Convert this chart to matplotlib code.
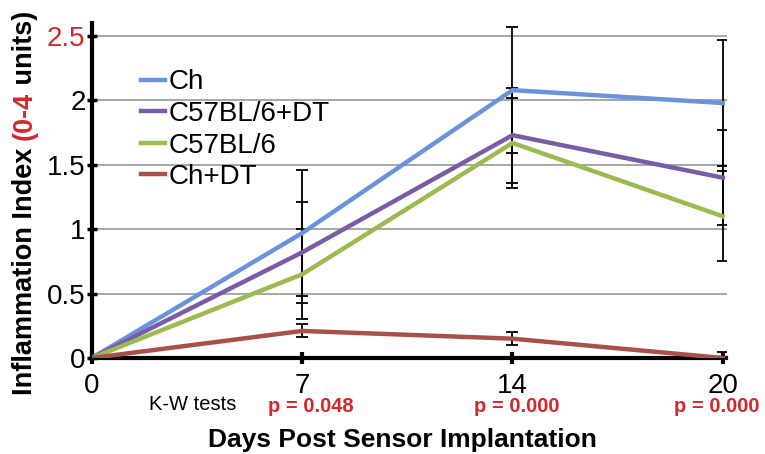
import matplotlib
matplotlib.use("Agg")
import matplotlib.pyplot as plt
import numpy as np

plt.rcParams['font.family'] = ['Liberation Sans', 'DejaVu Sans']

days = ["0", "7", "14", "20"]
series_names = ["Ch", "C57BL/6+DT", "C57BL/6", "Ch+DT"]
ch = [0.0, 0.97, 2.08, 1.98]
c57_dt = [0.0, 0.82, 1.73, 1.40]
c57 = [0.0, 0.65, 1.67, 1.10]
ch_dt = [0.0, 0.21, 0.15, 0.0]
ch_err = [0.0, 0.49, 0.49, 0.49]
c57_dt_err = [0.0, 0.39, 0.37, 0.37]
c57_err = [0.0, 0.35, 0.35, 0.35]
ch_dt_err = [0.0, 0.05, 0.05, 0.05]
p_values = ["", "p = 0.048", "p = 0.000", "p = 0.000"]
yticks = [0, 0.5, 1, 1.5, 2, 2.5]
ytick_labels = ["0", "0.5", "1", "1.5", "2", "2.5"]

colors = ["#6B93DD", "#7A5CA6", "#9BBB4F", "#A9504B"]

W, H = 765, 454
fig = plt.figure(figsize=(7.65, 4.54), dpi=100)
ax = fig.add_axes([0.120, 0.2115, 0.829, 0.7375])

x = np.arange(len(days))
all_vals = [ch, c57_dt, c57, ch_dt]
all_errs = [ch_err, c57_dt_err, c57_err, ch_dt_err]

for vals, errs in zip(all_vals, all_errs):
    ax.errorbar(x[1:], vals[1:], yerr=errs[1:], fmt='none', ecolor='black',
                elinewidth=1.3, capsize=4, capthick=1.3, zorder=2)
lines = []
for name, vals, col in zip(series_names, all_vals, colors):
    ln, = ax.plot(x, vals, color=col, lw=3.2, label=name, zorder=3)
    lines.append(ln)

ax.set_xlim(0, 3.015)
ax.set_ylim(0, 2.6)
ax.set_yticks(yticks)
ax.set_yticklabels(ytick_labels, fontsize=20)
ax.get_yticklabels()[-1].set_color('#D9252A')
ax.set_xticks(x)
ax.set_xticklabels(days, fontsize=20)
for y in yticks[1:]:
    ax.plot([0, 3.015], [y, y], color='#A0A0A0', lw=1.3, zorder=1, clip_on=False)

for s in ['top', 'right']:
    ax.spines[s].set_visible(False)
ax.spines['left'].set_linewidth(3)
ax.spines['bottom'].set_linewidth(3)
ax.tick_params(axis='y', direction='inout', length=7, width=2.5, pad=1)
ax.tick_params(axis='x', direction='inout', length=8, width=3, pad=7)

leg = ax.legend(handles=lines, loc='upper left', bbox_to_anchor=(0.06, 0.895),
                frameon=False, fontsize=20, handlelength=0.85, handletextpad=0.15,
                labelspacing=0.2, borderaxespad=0)

# x label and annotations
fig.text(402 / W, 1 - 440 / H, "Days Post Sensor Implantation", ha='center', va='center',
         fontsize=19, fontweight='bold')
fig.text(193 / W, 1 - 404 / H, "K-W tests", ha='center', va='center', fontsize=14.5)
p_x = [0, 311, 517, 717]
for px, pv in zip(p_x, p_values):
    if pv:
        fig.text(px / W, 1 - 407 / H, pv, ha='center', va='center',
                 fontsize=14.5, fontweight='bold', color='#D9252A')

# multi-colored rotated y label
fig.canvas.draw()
r = fig.canvas.get_renderer()
parts = [("Inflammation Index ", 'black'), ("(0-4", '#D9252A'), (" units)", 'black')]
ypos = 395
xcenter = 25
for txt, col in parts:
    t = fig.text(xcenter / W, 1 - ypos / H, txt, rotation=90, ha='center', va='bottom',
                 fontsize=19.5, fontweight='bold', color=col)
    bb = t.get_window_extent(renderer=r)
    ypos -= bb.height

fig.savefig("out.png", dpi=100)
